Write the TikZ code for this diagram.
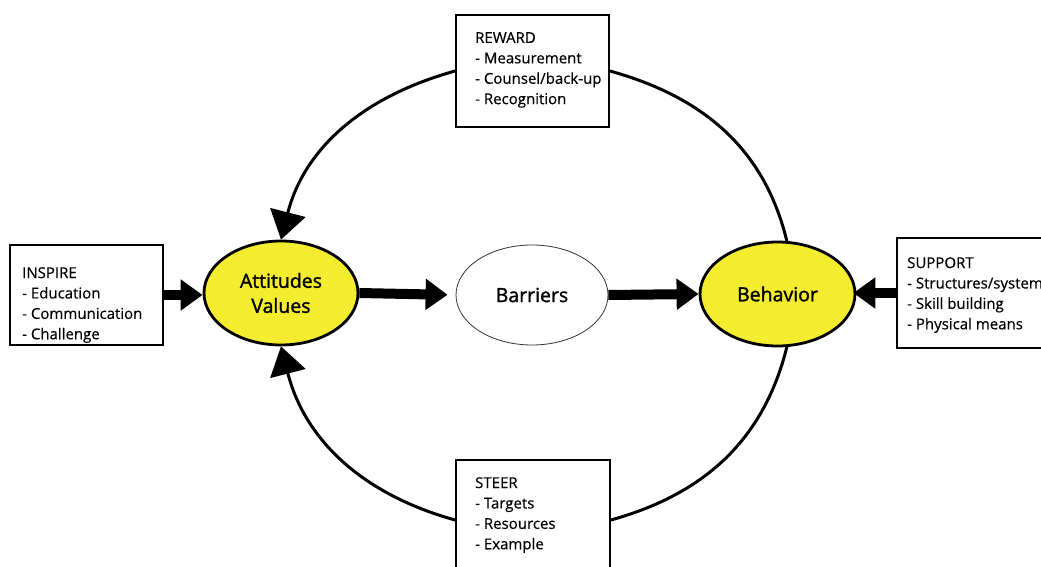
\documentclass[tikz,border=0pt]{standalone}
\usepackage{fontspec}
\setmainfont{Open Sans}
\newfontfamily\semib[FakeBold=1.5]{Open Sans}
\newfontfamily\boxfont[FakeBold=0.4]{Open Sans}
\usetikzlibrary{arrows.meta,shapes.geometric}
\definecolor{attyellow}{HTML}{F4EC2E}
\begin{document}
\begin{tikzpicture}[x=1pt,y=1pt,
  box/.style={draw, line width=1.8pt, inner sep=0, rectangle},
  txt/.style={anchor=north west, inner sep=0, align=left, font=\boxfont\fontsize{15}{20.4}\selectfont},
  yel/.style={ellipse, draw, line width=2.8pt, fill=attyellow, inner sep=0, align=center, font=\semib\fontsize{19.5}{25}\selectfont},
  thickarrow/.style={line width=10pt, -{Triangle[length=22pt,width=30pt]}},
  looparrow/.style={line width=3pt, -{Triangle[length=28pt,width=36pt]}},
  loopline/.style={line width=3pt}]
\useasboundingbox (0,0) rectangle (1041,566);
\clip (0,0) rectangle (1041,566);
\fill[white] (0,0) rectangle (1041,566);

% boxes
\node[box, minimum width=153pt, minimum height=112pt] (reward) at (532.5,495) {};
\node[box, minimum width=153pt, minimum height=100pt] (inspire) at (86.5,271) {};
\node[box, minimum width=163pt, minimum height=110pt] (support) at (978.5,273) {};
\node[box, minimum width=154pt, minimum height=120pt] (steer) at (533,46) {};

\node[txt] (rewardtxt) at (475,534) {REWARD\\- Measurement\\- Counsel/back-up\\- Recognition};
\node[txt] (inspiretxt) at (22,299) {INSPIRE\\- Education\\- Communication\\- Challenge};
\node[txt] (supporttxt) at (907,309) {SUPPORT\\- Structures/system\\- Skill building\\- Physical means};
\node[txt] (steertxt) at (475,89) {STEER\\- Targets\\- Resources\\- Example};

% ellipses
\node[yel, minimum width=154pt, minimum height=104pt] (att) at (281,273) {Attitudes\\Values};
\node[yel, minimum width=155pt, minimum height=104pt] (beh) at (777.5,272) {Behavior};
\node[ellipse, draw=black!80, line width=0.8pt, fill=white, inner sep=0,
      minimum width=152pt, minimum height=100pt, font=\semib\fontsize{19.5}{25}\selectfont] (bar) at (532,271) {Barriers};

% loop connectors
\draw[looparrow] (reward.west) to[out=195.5, in=75.7] (att.north);
\draw[loopline] (reward.east) to[out=-15.5, in=103.7] (beh.80);
\draw[looparrow] (steer.west) to[out=164.5, in=-75.7] (att.south);
\draw[loopline] (beh.-80) to[out=256, in=15.5] (steer.east);

% straight thick arrows
\draw[thickarrow] (inspire.east) -- (inspire.east -| att.west);
\draw[thickarrow, shorten >=8pt] (att.east) -- (bar.west);
\draw[thickarrow] (bar.east) -- (beh.west);
\draw[thickarrow, shorten >=-3pt] (support.west) -- (support.west -| beh.east);
\end{tikzpicture}
\end{document}
